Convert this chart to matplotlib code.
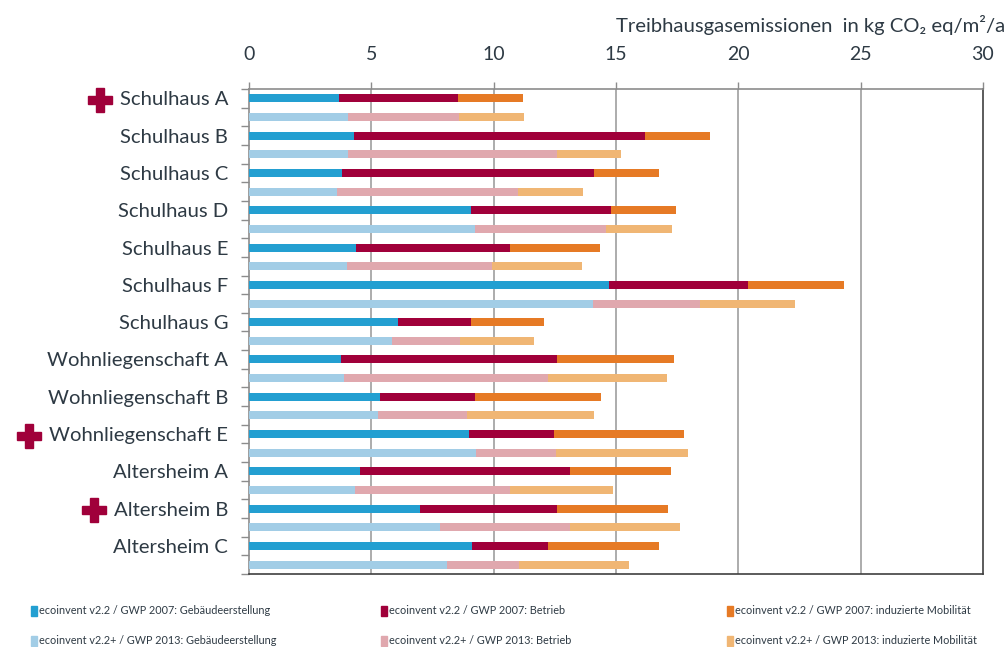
import matplotlib
matplotlib.use("Agg")
import matplotlib.pyplot as plt
import numpy as np
from matplotlib.patches import Rectangle

# ---------------- data ----------------
categories = ["Schulhaus A", "Schulhaus B", "Schulhaus C", "Schulhaus D", "Schulhaus E",
              "Schulhaus F", "Schulhaus G", "Wohnliegenschaft A", "Wohnliegenschaft B",
              "Wohnliegenschaft E", "Altersheim A", "Altersheim B", "Altersheim C"]
highlighted = ["Schulhaus A", "Wohnliegenschaft E", "Altersheim B"]

# ecoinvent v2.2 / GWP 2007 (values per component)
bau_2007 = [3.69, 4.28, 3.79, 9.06, 4.36, 14.72, 6.11, 3.75, 5.36, 8.98, 4.54, 6.97, 9.11]
betrieb_2007 = [4.84, 11.90, 10.31, 5.73, 6.31, 5.66, 2.95, 8.82, 3.88, 3.48, 8.58, 5.62, 3.12]
mob_2007 = [2.65, 2.66, 2.66, 2.67, 3.66, 3.94, 3.01, 4.81, 5.14, 5.32, 4.14, 4.52, 4.51]

# ecoinvent v2.2+ / GWP 2013
bau_2013 = [4.03, 4.03, 3.58, 9.24, 4.01, 14.07, 5.83, 3.89, 5.27, 9.28, 4.33, 7.81, 8.09]
betrieb_2013 = [4.54, 8.54, 7.40, 5.34, 5.94, 4.36, 2.81, 8.35, 3.64, 3.27, 6.32, 5.30, 2.94]
mob_2013 = [2.66, 2.64, 2.66, 2.69, 3.65, 3.88, 3.00, 4.85, 5.19, 5.38, 4.21, 4.50, 4.49]

series_labels = ["ecoinvent v2.2 / GWP 2007: Gebäudeerstellung",
                 "ecoinvent v2.2 / GWP 2007: Betrieb",
                 "ecoinvent v2.2 / GWP 2007: induzierte Mobilität",
                 "ecoinvent v2.2+ / GWP 2013: Gebäudeerstellung",
                 "ecoinvent v2.2+ / GWP 2013: Betrieb",
                 "ecoinvent v2.2+ / GWP 2013: induzierte Mobilität"]
xticks = [0, 5, 10, 15, 20, 25, 30]
axis_title = "Treibhausgasemissionen  in kg CO\u2082 eq/m\u00b2/a"

colors_2007 = ["#239FD1", "#A0003A", "#E67A25"]
colors_2013 = ["#A2CDE6", "#E0A8AE", "#F0B674"]
text_color = "#2E3A44"

# ---------------- figure ----------------
plt.rcParams['font.family'] = ['Lato', 'DejaVu Sans']
W, H = 1008, 647
fig = plt.figure(figsize=(W / 100, H / 100), dpi=100)
ax = fig.add_axes([249 / W, 1 - 574 / H, (983 - 249) / W, (574 - 89) / H])

n = len(categories)
y07 = np.arange(n) * 2
y13 = y07 + 1
bh = 0.43

def stack(ypos, parts, cols):
    left = np.zeros(n)
    for vals, c in zip(parts, cols):
        vals = np.asarray(vals)
        ax.barh(ypos, vals, left=left, height=bh, color=c, edgecolor='none', zorder=3)
        left = left + vals

stack(y07, [bau_2007, betrieb_2007, mob_2007], colors_2007)
stack(y13, [bau_2013, betrieb_2013, mob_2013], colors_2013)

ax.set_xlim(0, 30)
ax.set_ylim(2 * n - 0.5, -0.5)

# x axis on top
ax.xaxis.tick_top()
ax.set_xticks(xticks)
ax.set_xticklabels([str(t) for t in xticks], fontsize=14, color=text_color)
ax.tick_params(axis='x', which='major', direction='out', length=5, width=1,
               color='#8C8C8C', pad=14)
for t in xticks[1:-1]:
    ax.axvline(t, color='#9E9E9E', lw=1.2, zorder=1)

# y axis
ax.set_yticks(y07)
ax.set_yticklabels(categories, fontsize=14.6, color=text_color)
ax.tick_params(axis='y', which='major', length=0, pad=15)
ax.set_yticks(np.arange(2 * n + 1) - 0.5, minor=True)
ax.tick_params(axis='y', which='minor', direction='out', length=6, width=1, color='#8C8C8C')

for s in ['left', 'top']:
    ax.spines[s].set_color('#8C8C8C')
    ax.spines[s].set_linewidth(1.2)
for s in ['right', 'bottom']:
    ax.spines[s].set_color('#404040')
    ax.spines[s].set_linewidth(1.2)

# axis title
fig.text(1005 / W, 1 - 25 / H, axis_title, ha='right', va='center',
         fontsize=14.6, color=text_color)

# red crosses next to highlighted labels
fig.canvas.draw()
renderer = fig.canvas.get_renderer()
for lbl in ax.get_yticklabels():
    if lbl.get_text() in highlighted:
        bb = lbl.get_window_extent(renderer)
        cx = bb.x0 - 20
        cy = (bb.y0 + bb.y1) / 2
        fig.lines.append(plt.Line2D([cx / W], [cy / H], transform=fig.transFigure,
                                    marker='P', markersize=17, color='#A0003A',
                                    markeredgecolor='#A0003A', linestyle='none'))

# legend (manual)
leg_colors = colors_2007 + colors_2013
col_x = [31, 381, 727]
row_y = [611, 641]
for i, (lab, c) in enumerate(zip(series_labels, leg_colors)):
    r, k = divmod(i, 3)
    x0 = col_x[k]
    yc = row_y[r]
    fig.patches.append(Rectangle((x0 / W, 1 - (yc + 5) / H), 6 / W, 10 / H,
                                 transform=fig.transFigure, color=c))
    fig.text((x0 + 8) / W, 1 - yc / H, lab, ha='left', va='center',
             fontsize=7.8, color=text_color)

fig.savefig("out.png", dpi=100)
